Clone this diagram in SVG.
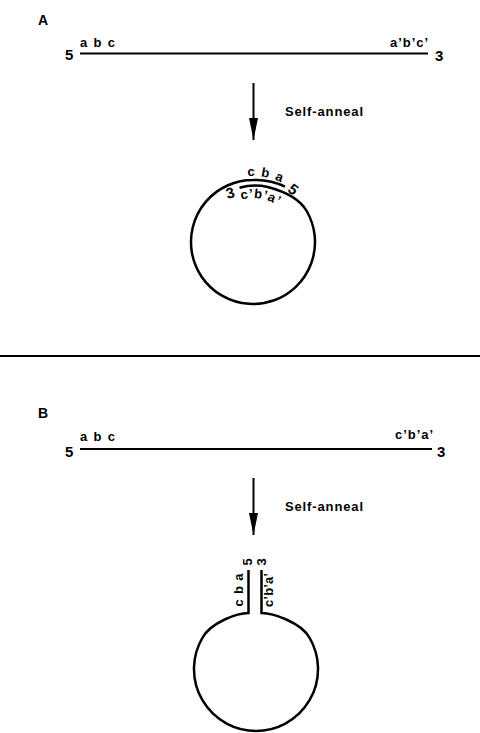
<svg xmlns="http://www.w3.org/2000/svg" width="480" height="733" viewBox="0 0 480 733">
<style>
text{font-family:"Liberation Sans",Arial,Helvetica,sans-serif;font-weight:bold;fill:#000}
.lbl{font-size:13px}
.end{font-size:15px}
.pan{font-size:14px}
.sa{font-size:13px}
.strand{fill:none;stroke:#000;stroke-width:2}
.ring{fill:none;stroke:#000;stroke-width:2.5}
.arr{stroke:#000;stroke-width:2;fill:none}
</style>
<defs>
<marker id="head" markerUnits="userSpaceOnUse" markerWidth="24" markerHeight="10" refX="22" refY="4.5" orient="auto">
<path d="M0,0 L22,4.5 L0,9 Z" fill="#000"/>
</marker>
<path id="arcA1" d="M220,184.84 A66 66 0 0 1 303.56,199.58"/>
<path id="arcA2" d="M224.7,208.3 A44 44 0 0 1 291.1,220"/>
</defs>

<g id="connectors">
<line class="arr" x1="253.5" y1="83" x2="253.5" y2="140" marker-end="url(#head)"/>
<line class="arr" x1="253.5" y1="478" x2="253.5" y2="535" marker-end="url(#head)"/>
<line x1="0" y1="356" x2="480" y2="356" stroke="#000" stroke-width="2"/>
</g>

<g id="panelA">
<text class="pan" x="38" y="25">A</text>
<g id="linearA">
<line class="strand" x1="80" y1="53.5" x2="428" y2="53.5"/>
<text class="end" x="65" y="60">5</text>
<text class="lbl" x="80" y="47" textLength="35">a b c</text>
<text class="lbl" x="390" y="47" textLength="38">a’b’c’</text>
<text class="end" x="435" y="61">3</text>
</g>
<text class="sa" x="285" y="116" textLength="78">Self-anneal</text>
<g id="circleA">
<path class="ring" d="M239.5,187.7 A57 57 0 0 1 267.75,186.94 C283.2,191 298.7,197.1 306.69,211 A62 62 0 1 1 253,180 A64 64 0 0 1 285,186.6"/>
<text class="lbl"><textPath href="#arcA1" startOffset="29" letter-spacing="1.2">c b a</textPath></text>
<text class="lbl"><textPath href="#arcA2" startOffset="19" letter-spacing="0.8">c’b’a’</textPath></text>
<text class="end" text-anchor="middle" transform="translate(290.1,193.6) rotate(37.5)">5</text>
<text class="end" text-anchor="middle" transform="translate(231.5,198) rotate(-15)">3</text>
</g>
</g>

<g id="panelB">
<text class="pan" x="38" y="418">B</text>
<g id="linearB">
<line class="strand" x1="80" y1="449" x2="432" y2="449"/>
<text class="end" x="65" y="457">5</text>
<text class="lbl" x="80" y="441" textLength="35">a b c</text>
<text class="lbl" x="395" y="439" textLength="38">c’b’a’</text>
<text class="end" x="437" y="457">3</text>
</g>
<text class="sa" x="285" y="511" textLength="78">Self-anneal</text>
<g id="hairpinB">
<path class="ring" d="M248.5,570 V613 C238,613 211,622 202.3,638 A62 62 0 1 0 309.7,638 C301,622 272,613 261.5,613 V570"/>
<text class="lbl" text-anchor="middle" textLength="33" transform="translate(243,590) rotate(-90)">c b a</text>
<text class="lbl" text-anchor="middle" textLength="34" transform="translate(273,590) rotate(-90)">c’b’a’</text>
<text class="lbl" text-anchor="middle" transform="translate(252,562) rotate(-90)">5</text>
<text class="lbl" text-anchor="middle" transform="translate(265.5,562) rotate(-90)">3</text>
</g>
</g>
</svg>
